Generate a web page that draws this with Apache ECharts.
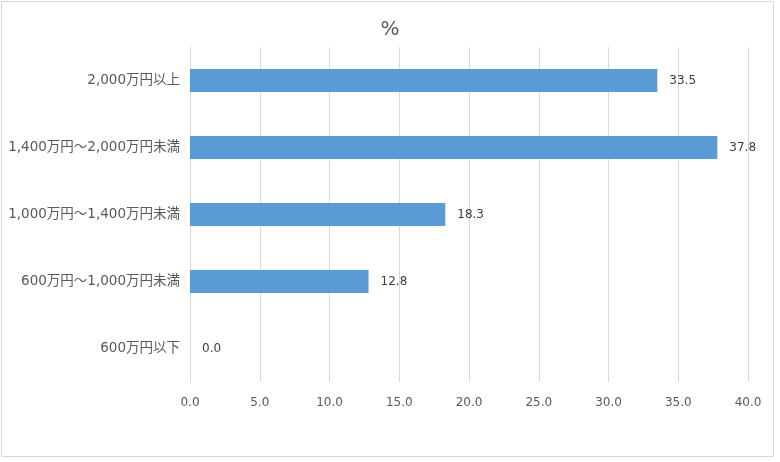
<!DOCTYPE html>
<html><head><meta charset="utf-8">
<script src="https://cdn.jsdelivr.net/npm/echarts@6/dist/echarts.min.js"></script>
<style>html,body{margin:0;padding:0;background:#fff}#c{width:780px;height:462px}</style>
</head><body><div id="c"></div>
<script>
const categories = ['600万円以下', '600万円～1,000万円未満', '1,000万円～1,400万円未満', '1,400万円～2,000万円未満', '2,000万円以上'];
const values = [0.0, 12.8, 18.3, 37.8, 33.5];
const titleText = '%';
const font = '"DejaVu Sans", "Noto Sans CJK JP", sans-serif';
const chart = echarts.init(document.getElementById('c'), null, {renderer: 'canvas'});
chart.setOption({
  animation: false,
  backgroundColor: '#fff',
  graphic: [{type: 'rect', shape: {x: 1.5, y: 1.5, width: 772, height: 455}, style: {fill: 'none', stroke: '#d9d9d9', lineWidth: 1}}],
  title: {text: titleText, left: 'center', top: 15, textStyle: {fontFamily: font, fontSize: 20, fontWeight: 'normal', color: '#595959'}},
  grid: {left: 190, right: 32, top: 47, bottom: 80},
  xAxis: {
    type: 'value', min: 0, max: 40, interval: 5,
    axisLine: {show: false}, axisTick: {show: false},
    splitLine: {lineStyle: {color: '#d9d9d9', width: 1}},
    axisLabel: {formatter: v => v.toFixed(1), color: '#595959', fontFamily: font, fontSize: 12, margin: 15}
  },
  yAxis: {
    type: 'category', data: categories,
    axisLine: {show: true, lineStyle: {color: '#d9d9d9'}}, axisTick: {show: false},
    axisLabel: {color: '#595959', fontFamily: font, fontSize: 13.5, margin: 10}
  },
  series: [{
    type: 'bar', data: values, barWidth: 23,
    itemStyle: {color: '#5b9bd5'},
    label: {show: true, position: 'right', distance: 12, formatter: p => p.value.toFixed(1), color: '#404040', fontFamily: font, fontSize: 12}
  }]
});
</script></body></html>
